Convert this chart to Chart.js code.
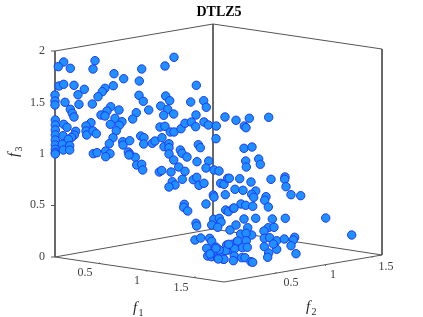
<!DOCTYPE html>
<html><head><meta charset="utf-8">
<style>html,body{margin:0;padding:0;background:#fff}canvas{display:block}</style>
<script src="https://cdn.jsdelivr.net/npm/chart.js@4"></script>
</head><body><canvas id="c" width="423" height="317"></canvas>
<script>
const title = "DTLZ5";
const projectedX = [63.7,58.3,70.3,95,93,165,174,141.7,114,123.7,139.3,196.3,59,63.7,74,84.3,78,113.3,105,102.3,98,55,55,55,65,79,92.3,70.3,72.3,74,110.7,107,101,105,119,136.3,132.7,139,143.3,148.7,160.7,165.7,169.7,167.7,163.7,173.7,190.7,203.7,206.3,196,225,115,110.3,122,119.3,116.3,91,86,86,86.7,93,96.3,75.7,74.3,71.7,63.7,67,55.3,55.3,55.3,55.3,55.3,55.3,55.3,55.3,55.3,63,68.3,62.3,69.7,63.3,69.7,113,109.3,122.7,123,129.7,140.7,144,143.7,152.3,155,162,160,165,170.3,174,181,185,191.3,195.7,204,208.3,216.3,216,164,169,169,169,180.3,182,187,198.3,200.3,197,208.7,93.3,97,105.7,110,105.7,128.3,130,135.3,173.7,236,249.3,268.7,244.3,246,244,252,245.7,258.7,260.3,246.3,129,136.7,141.7,142.7,159.3,161.7,171,178.7,185,182.3,172.3,175,169,193.3,196.7,199,204,206,214,219,220.7,224,227.7,225.3,213.3,214,206,184.3,183.7,187.7,225.7,228.3,213.7,219.3,221,211.7,217.7,230,196,196.7,195,200.7,209.7,211.7,206.7,215.7,219,226.7,228.3,215,207.7,211.7,217.7,223.3,210,221.7,229.3,239.7,251,271,285,284.7,286,291,300.7,235,243,255.7,251.7,253.7,266,264.7,268.3,241,245.7,252.7,233.3,234,244,255.7,272.3,285.3,325.7,351.7,268.3,274,264,264.3,269.7,247.7,236,240.7,251.7,246,246.3,236.7,231.7,242.3,247.3,234.7,225.7,219.3,216,234.3,233.3,241.7,245,251,252.7,264.3,276.7,284.3,294.7,293.3,291,276.7,268.7,267.7,296,273.3,224,218.3,237.7,228.7];
const projectedY = [62,66.7,68.3,60.7,69,66,57.3,69,73.7,78.7,81,85.3,86,84.3,85.3,89.3,94.7,85.7,88.3,91.7,96.7,95,101,105,102.3,104.3,104,109.3,113.3,117,106.7,111,115,116,110,112.7,119,95.3,101.3,110,106,96,100.7,109.3,115.3,114,102,100.7,107.3,115,117,118.3,124.3,121.7,125.3,130.7,122.7,126,131,135,131,133.7,131.3,135,137.3,124.3,127.3,120,125,130,135,140,145,149.3,152.5,154,135.7,139.3,144.3,145.7,150,150,137.7,143.7,141.7,145,140.7,136,137.7,144,143.3,141,137.7,127,126.3,132,132,128.7,123.3,122,126.7,122,125,126,138.7,146.7,143.7,147.7,154,150,153.3,157,144.7,147.7,161.7,161,153.7,152.7,151,153.7,156.7,152,154.3,157.3,160,120.3,118.3,117.3,126,127.7,148.3,147,161,159,164.3,167,155,165,164.3,170,172,170.5,172,167,171.3,179.3,181.7,185,187,179.7,177.3,185.3,183.3,168,170,171,183.3,184.3,178.3,194.7,195,197,204,204.3,207.3,211,210,211.7,219.3,218.3,222,225,227.3,230,223.3,226,240,238,238.3,241.3,248.3,247,250,245,250,251.7,256,256.7,258.3,259.3,254,255,178.3,178.7,182,179.3,177,179.3,186.7,194.7,195.7,189.3,190.3,191,194.3,197.3,196.7,200.3,207,204,205.3,206.3,208.3,208,219,218.3,219,218.3,218,235,227.7,227.3,231,238.3,237.7,227.7,225,234,235,233.3,240.7,241.7,244.3,247.7,247.3,248.7,250.7,250,248.3,256,260.7,257.7,257.7,261.7,262.3,246.7,240.7,239,237.3,240,245.7,249.3,253,257.3,253.7,244,259.3,259,241,244.3];

// Box edges and tick marks as polylines on the picture plane; null breaks a line.
const edgeX = [55,213,382,null,55,55,null,213,213,null,382,382,null,55,213,382,null,55,224,382,null,51,55,null,51,55,null,51,55,null,51,55,null,51,55,null,100.7,99.5,null,147,145.8,null,196,194.7,null,275,276.2,null,325,326.2,null,371.7,373];
const edgeY = [51,24,49,null,51,257,null,24,229,null,49,255,null,257,229,255,null,257,282,255,null,51,51,null,102.5,102.5,null,154,154,null,205.5,205.5,null,257,257,null,264,262.5,null,271.7,270.2,null,277.7,276.2,null,273.7,272.2,null,266,264.5,null,257.7,256.2];

const labelText = ["2","1.5","1","0.5","0","0.5","1","1.5","0.5","1","1.5"];
const labelX = [45,45,45,45,45,85,137,181,291,333,386];
const labelY = [51,102.5,154,205,257,273,281,288,283,275,267];
const labelAlign = ["right","right","right","right","right","center","center","center","center","center","center"];

const axisNames = ["1","2","3"];
const axisNameX = [137,310,14];
const axisNameY = [308,307,153];
const axisNameRot = [0,0,-90];

const serif = '"Liberation Serif","Times New Roman",serif';
const textPlugin = {
  id:'text',
  afterDraw(chart){
    const g = chart.ctx, sx = chart.scales.x, sy = chart.scales.y;
    g.save();
    g.fillStyle='#000'; g.textAlign='center'; g.textBaseline='middle';
    g.font='bold 14px '+serif;
    g.fillText(title, sx.getPixelForValue(219), sy.getPixelForValue(12));
    g.fillStyle='#404040'; g.font='12px '+serif;
    labelText.forEach((t,i)=>{
      g.textAlign=labelAlign[i];
      g.fillText(t, sx.getPixelForValue(labelX[i]), sy.getPixelForValue(labelY[i]));
    });
    axisNames.forEach((n,i)=>{
      g.save();
      g.translate(sx.getPixelForValue(axisNameX[i]), sy.getPixelForValue(axisNameY[i]));
      g.rotate(axisNameRot[i]*Math.PI/180);
      g.fillStyle='#262626'; g.textAlign='center';
      g.font='italic 15px '+serif;
      g.fillText('f',-2,0);
      g.font='10px '+serif;
      g.fillText(n,4,5);
      g.restore();
    });
    g.restore();
  }
};

new Chart(document.getElementById('c'),{
  type:'scatter',
  data:{datasets:[
    {label:'DTLZ5',data:projectedX.map((x,i)=>({x,y:projectedY[i]})),
     pointRadius:4.2,pointBorderWidth:1,pointBackgroundColor:'#1e90ff',pointBorderColor:'#2038f5',order:1,clip:false},
    {label:'box',data:edgeX.map((x,i)=>({x,y:edgeY[i]})),showLine:true,spanGaps:false,
     pointRadius:0,borderColor:'#555555',borderWidth:1,order:2,clip:false}
  ]},
  options:{
    responsive:false,animation:false,
    layout:{padding:0,autoPadding:false},
    plugins:{legend:{display:false},tooltip:{enabled:false},title:{display:false}},
    scales:{
      x:{type:'linear',display:false,min:0,max:423},
      y:{type:'linear',display:false,min:0,max:317,reverse:true}
    }
  },
  plugins:[textPlugin]
});
</script></body></html>
